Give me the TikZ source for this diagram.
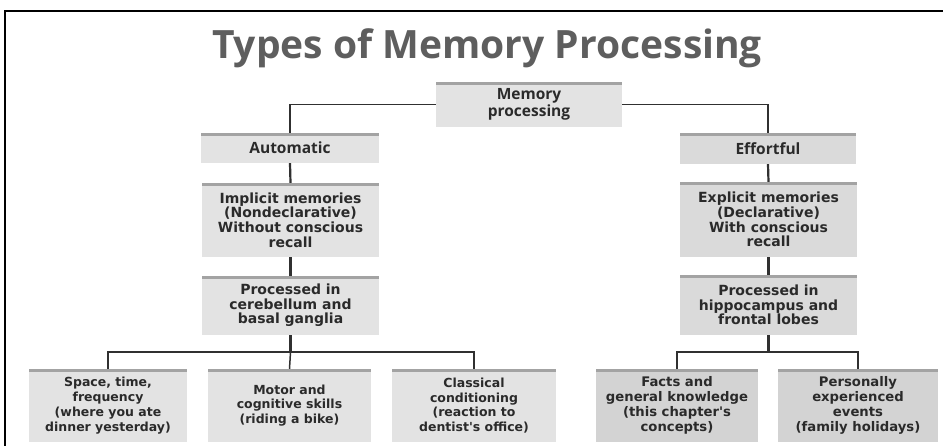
\documentclass[tikz,border=0pt]{standalone}
\usepackage{fontspec}
\newfontfamily\boxfont{DejaVu Sans}
\newfontfamily\headfont{Open Sans}
\definecolor{boxL}{HTML}{E3E3E3}
\definecolor{boxR}{HTML}{DADADA}
\definecolor{boxB}{HTML}{D3D3D3}
\definecolor{stripecol}{HTML}{A3A3A3}
\definecolor{txt}{HTML}{2A2A2A}
\definecolor{titlecol}{HTML}{5E5E5E}
\definecolor{linecol}{HTML}{303030}
\tikzset{
  x=1pt, y=-1pt,
  boxbase/.style={rectangle, inner sep=0pt, align=center, text=txt,
    font=\boxfont\bfseries\fontsize{14}{14.6}\selectfont,
    path picture={\fill[stripecol] (path picture bounding box.north west) rectangle ([yshift=-3.5pt]path picture bounding box.north east);}},
  lbox/.style={boxbase, fill=boxL},
  rbox/.style={boxbase, fill=boxR},
  bbox/.style={boxbase, fill=boxB},
  smalltext/.style={font=\boxfont\bfseries\fontsize{12.5}{14.8}\selectfont},
  righttext/.style={font=\boxfont\bfseries\fontsize{13.2}{14.8}\selectfont},
  headbox/.style={font=\headfont\bfseries\fontsize{15.5}{15}\selectfont},
  conn/.style={draw=linecol, line width=1.5pt},
  vconn/.style={draw=linecol, line width=2.2pt},
  frameline/.style={draw=black, line width=2pt},
}
\newcommand{\placebox}[7]{%
  \node[#1, minimum width={#4-#2}, minimum height={#5-#3}] (#6) at ({(#2+#4)/2},{(#3+#5)/2}) {#7};}
\begin{document}
\begin{tikzpicture}
\useasboundingbox (0,0) rectangle (943,446);
\clip (0,0) rectangle (943,446);
\fill[white] (0,0) rectangle (943,446);
% frame
\draw[frameline] (5,460) |- (960,11);
% title
\node[anchor=base, text=titlecol, font=\headfont\bfseries\fontsize{39}{42}\selectfont, inner sep=0pt] (title) at (487,59) {Types of Memory Processing};
% boxes
\placebox{lbox,headbox}{436}{82}{622}{127}{mem}{Memory\\processing}
\placebox{lbox,headbox}{201}{133}{379}{163}{auto}{Automatic}
\placebox{rbox,headbox}{680}{133}{856}{164}{eff}{Effortful}
\placebox{lbox}{202}{183}{379}{257}{impl}{Implicit memories\\(Nondeclarative)\\Without conscious\\recall}
\placebox{rbox}{680}{182}{857}{257}{expl}{Explicit memories\\(Declarative)\\With conscious\\recall}
\placebox{lbox}{202}{276}{379}{335}{procL}{Processed in\\cerebellum and\\basal ganglia}
\placebox{rbox}{680}{275}{857}{335}{procR}{Processed in\\hippocampus and\\frontal lobes}
\placebox{lbox,smalltext}{29}{369}{187}{442}{space}{Space, time,\\frequency\\(where you ate\\dinner yesterday)}
\placebox{lbox,smalltext}{208}{369}{371}{442}{motor}{Motor and\\cognitive skills\\(riding a bike)}
\placebox{lbox,smalltext}{392}{369}{556}{442}{class}{Classical\\conditioning\\(reaction to\\dentist's office)}
\placebox{bbox,righttext}{596}{369}{758}{442}{facts}{Facts and\\general knowledge\\(this chapter's\\concepts)}
\placebox{bbox,righttext}{778}{369}{938}{442}{pers}{Personally\\experienced\\events\\(family holidays)}
% connectors
\draw[conn] (mem.west) -| (auto.north);
\draw[conn] (mem.east) -| (eff.north);
\draw[vconn] (auto.south) -- (impl.north);
\draw[vconn] (eff.south) -- (expl.north);
\draw[vconn] (impl.south) -- (procL.north);
\draw[vconn] (expl.south) -- (procR.north);
\path (procL.south) ++(0,17) coordinate (jl);
\path (procR.south) ++(0,17) coordinate (jr);
\draw[vconn] (procL.south) -- (jl);
\draw[conn] (space.north) |- (jl) -| (class.north);
\draw[conn] (motor.north) -- (jl);
\draw[vconn] (procR.south) -- (jr);
\draw[conn] (facts.north) |- (jr) -| (pers.north);
\end{tikzpicture}
\end{document}
